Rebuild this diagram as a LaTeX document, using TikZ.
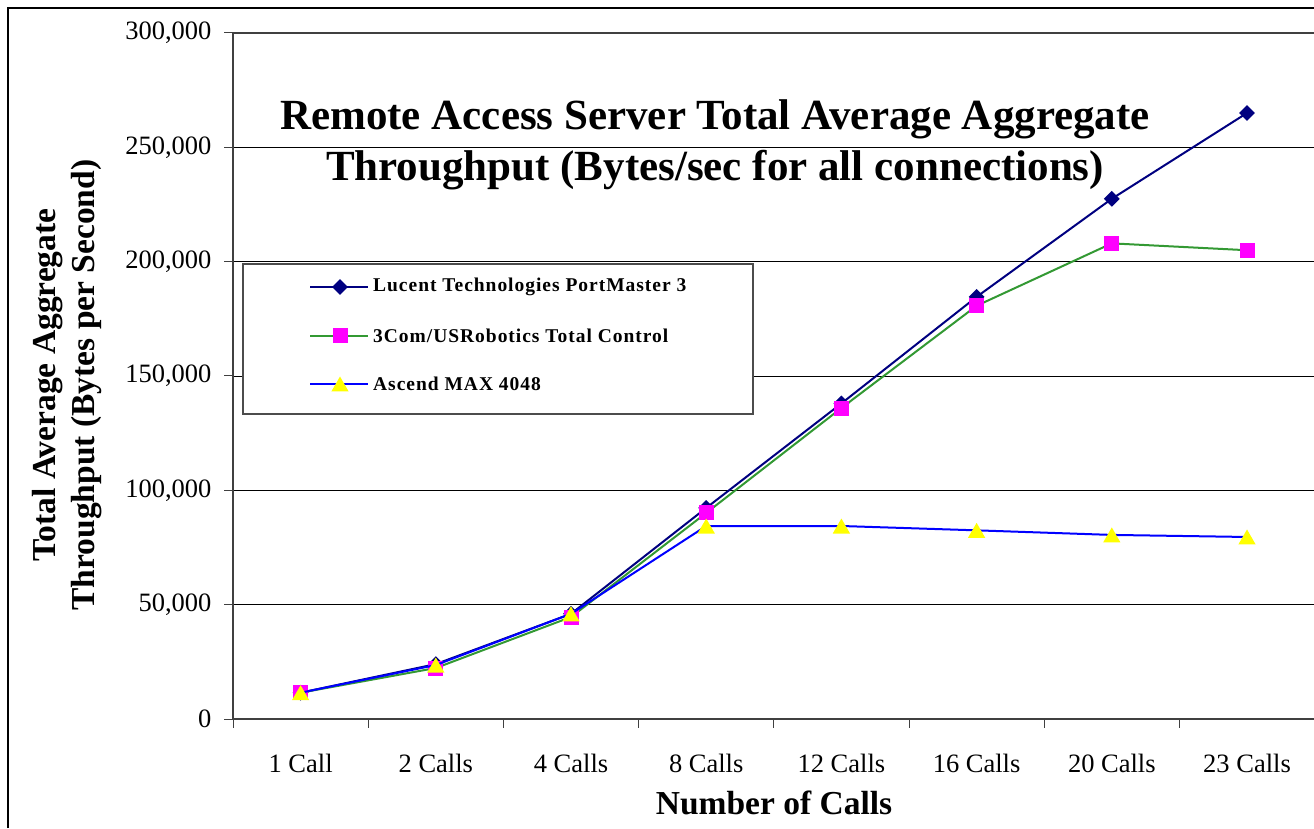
\documentclass[tikz,border=0pt]{standalone}
\usepackage{fontspec}
\setmainfont{Liberation Serif}
\usetikzlibrary{shapes.geometric}
\definecolor{lucentnavy}{RGB}{0,0,128}
\definecolor{comgreen}{RGB}{51,153,51}
\definecolor{ascendblue}{RGB}{0,0,255}
\definecolor{markmagenta}{RGB}{255,0,255}
\definecolor{markyellow}{RGB}{255,255,0}
\tikzset{
  gridline/.style={draw=black, line width=0.9pt},
  axisline/.style={draw=black!75, line width=1.6pt},
  series/.style={line width=2pt, line join=round},
  lucent-line/.style={series, draw=lucentnavy},
  com-line/.style={series, draw=comgreen},
  ascend-line/.style={series, draw=ascendblue},
  mark-diamond/.style={diamond, fill=lucentnavy, minimum size=16pt, inner sep=0pt},
  mark-square/.style={rectangle, fill=markmagenta, minimum size=15pt, inner sep=0pt},
  mark-triangle/.style={regular polygon, regular polygon sides=3, fill=markyellow, minimum size=20pt, inner sep=0pt, yshift=-2.5pt},
  ticklabel/.style={font=\fontsize{26.5}{28}\selectfont},
  axistitle/.style={font=\fontsize{33.5}{39}\selectfont\bfseries, align=center},
  legendtext/.style={font=\fontsize{19.5}{21}\selectfont\bfseries\addfontfeature{LetterSpace=5}, anchor=west, inner sep=0pt}
}
\newcommand{\legendrow}[4]{% y, line style, mark style, text
  \draw[#2] (310,#1) -- (368,#1);
  \node[#3] at (340,#1) {};
  \node[legendtext] at (373,#1) {#4};
}

\begin{document}
\begin{tikzpicture}[x=1pt,y=1pt]
  \useasboundingbox (0,0) rectangle (1314,828);
  \fill[white] (0,0) rectangle (1314,828);
  \draw[line width=1.5pt] (8,0) -- (8,820) -- (1314,820);

  \begin{scope}[shift={(233,109)}, x=135.2pt, y=2.2867pt]
    % grid and value axis
    \foreach \v in {50,100,...,250} {
      \draw[gridline] (0,\v) -- (8.2,\v);
    }
    \foreach \v/\lab in {0/0, 50/{50,000}, 100/{100,000}, 150/{150,000}, 200/{200,000}, 250/{250,000}, 300/{300,000}} {
      \draw[axisline, line width=1pt] (-9pt,\v) -- (0,\v);
      \node[ticklabel, anchor=east] (ytick-\v) at ([xshift=-18pt]0,\v) {\lab};
    }
    \draw[axisline] (8.2,300) -- (0,300) -- (0,0) -- (8.2,0);
    \foreach \i in {0,...,8} {
      \draw[axisline, line width=1pt] (\i,0) -- ([yshift=-9pt]\i,0);
    }
    \foreach \i/\lab in {1/1 Call, 2/2 Calls, 3/4 Calls, 4/8 Calls, 5/12 Calls, 6/16 Calls, 7/20 Calls, 8/23 Calls} {
      \node[ticklabel] (xtick-\i) at ([yshift=-44pt]\i-0.5,0) {\lab};
    }

    % data points
    \foreach \i/\v in {1/11.5, 2/24, 3/46, 4/92.3, 5/138, 6/184.6, 7/227.5, 8/265}
      \coordinate (lucent-\i) at (\i-0.5,\v);
    \foreach \i/\v in {1/11.5, 2/22.3, 3/44.6, 4/90.1, 5/136, 6/180.7, 7/208, 8/205}
      \coordinate (com-\i) at (\i-0.5,\v);
    \foreach \i/\v in {1/11.5, 2/23.6, 3/46, 4/84.4, 5/84.4, 6/82.5, 7/80.5, 8/79.6}
      \coordinate (ascend-\i) at (\i-0.5,\v);

    \draw[lucent-line] (lucent-1) \foreach \i in {2,...,8} { -- (lucent-\i) };
    \foreach \i in {1,...,8} \node[mark-diamond] at (lucent-\i) {};
    \draw[com-line] (com-1) \foreach \i in {2,...,8} { -- (com-\i) };
    \foreach \i in {1,...,8} \node[mark-square] at (com-\i) {};
    \draw[ascend-line] (ascend-1) \foreach \i in {2,...,8} { -- (ascend-\i) };
    \foreach \i in {1,...,8} \node[mark-triangle] at (ascend-\i) {};
  \end{scope}

  % legend
  \draw[draw=black!70, fill=white, line width=1.2pt] (243,414) rectangle (753,564);
  \legendrow{541}{lucent-line}{mark-diamond}{Lucent Technologies PortMaster 3}
  \legendrow{492}{com-line}{mark-square}{3Com/USRobotics Total Control}
  \legendrow{444}{ascend-line}{mark-triangle}{Ascend MAX 4048}

  % titles
  \node[font=\fontsize{43}{51}\selectfont\bfseries, align=center] (chart-title) at (715,683)
    {Remote Access Server Total Average Aggregate\\Throughput (Bytes/sec for all connections)};
  \node[axistitle, rotate=90] (y-title) at (67,443)
    {Total Average Aggregate\\Throughput (Bytes per Second)};
  \node[axistitle] (x-title) at (774,25) {Number of Calls};
\end{tikzpicture}
\end{document}
